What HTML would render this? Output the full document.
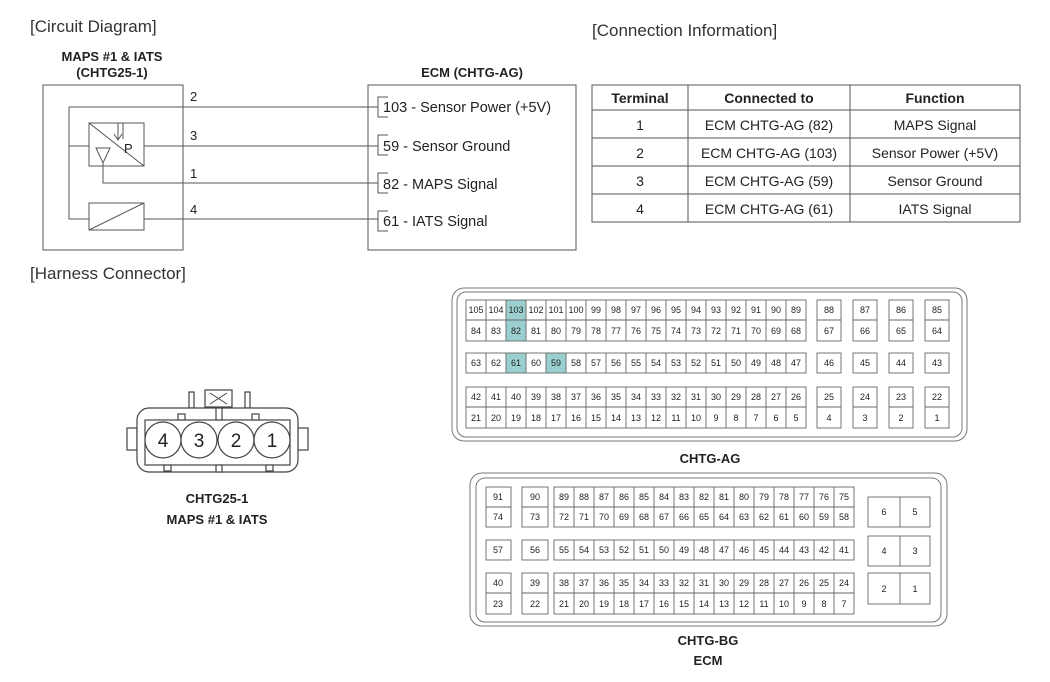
<!DOCTYPE html>
<html><head><meta charset="utf-8"><style>
html,body{margin:0;padding:0;background:#fff}
svg{display:block}
text{font-family:"Liberation Sans",Arial,sans-serif;fill:#222}
.c{font-size:9px;text-anchor:middle}
.t{font-size:14.5px}
.b{font-weight:bold;font-size:13px;text-anchor:middle}
.h{font-size:17px;fill:#333}
</style></head><body>
<svg width="1050" height="682" viewBox="0 0 1050 682" xmlns="http://www.w3.org/2000/svg">
<g fill="none" stroke="#555" stroke-width="1">
<!-- circuit -->
<rect x="43" y="85" width="140" height="165"/>
<rect x="368" y="85" width="208" height="165"/>
<path d="M69 107H378M69 107V219H89M69 146H89M144 146H378M103 163V183H378M144 219H378"/>
<rect x="89" y="123" width="55" height="43"/>
<path d="M89 123L144 166"/>
<path d="M96 148H110L103 163Z"/>
<path d="M118 123V139M123 123V139M114 134L118 140L122 134" />
<rect x="89" y="203" width="55" height="27"/>
<path d="M89 230L144 203"/>
<path d="M388 97H378V117H388M388 135H378V155H388M388 173H378V193H388M388 211H378V231H388"/>
<!-- table -->
<rect x="592" y="85" width="428" height="137"/>
<path d="M688 85V222M850 85V222M592 110H1020M592 138H1020M592 166H1020M592 194H1020"/>
</g>
<text x="30" y="32" class="h">[Circuit Diagram]</text>
<text x="592" y="36" class="h">[Connection Information]</text>
<text x="30" y="279" class="h">[Harness Connector]</text>
<text x="112" y="61" class="b">MAPS #1 &amp; IATS</text>
<text x="112" y="77" class="b">(CHTG25-1)</text>
<text x="472" y="77" class="b">ECM (CHTG-AG)</text>
<g class="t" style="font-size:13px">
<text x="190" y="101">2</text><text x="190" y="140">3</text><text x="190" y="178">1</text><text x="190" y="214">4</text>
</g>
<text x="124" y="153" style="font-size:13px">P</text>
<g style="font-size:14.5px">
<text x="383" y="112">103 - Sensor Power (+5V)</text>
<text x="383" y="151">59 - Sensor Ground</text>
<text x="383" y="189">82 - MAPS Signal</text>
<text x="383" y="226">61 - IATS Signal</text>
</g>
<g style="font-size:14px;text-anchor:middle">
<text x="640" y="103" style="font-weight:bold">Terminal</text>
<text x="769" y="103" style="font-weight:bold">Connected to</text>
<text x="935" y="103" style="font-weight:bold">Function</text>
<text x="640" y="130">1</text><text x="769" y="130">ECM CHTG-AG (82)</text><text x="935" y="130">MAPS Signal</text>
<text x="640" y="158">2</text><text x="769" y="158">ECM CHTG-AG (103)</text><text x="935" y="158">Sensor Power (+5V)</text>
<text x="640" y="186">3</text><text x="769" y="186">ECM CHTG-AG (59)</text><text x="935" y="186">Sensor Ground</text>
<text x="640" y="214">4</text><text x="769" y="214">ECM CHTG-AG (61)</text><text x="935" y="214">IATS Signal</text>
</g>

<!-- harness connector -->
<g fill="#fff" stroke="#444" stroke-width="1.2">
<rect x="127" y="428" width="10" height="22"/>
<rect x="298" y="428" width="10" height="22"/>
<rect x="189" y="392" width="5" height="16"/>
<rect x="245" y="392" width="5" height="16"/>
<rect x="205" y="390" width="27" height="17"/>
<rect x="137" y="408" width="161" height="64" rx="12"/>
<rect x="145" y="420" width="145" height="45"/>
<rect x="178" y="414" width="7" height="6"/><rect x="252" y="414" width="7" height="6"/>
<rect x="164" y="465" width="7" height="6"/><rect x="266" y="465" width="7" height="6"/>
<rect x="216" y="408" width="6" height="12"/><rect x="216" y="465" width="6" height="7"/>
<circle cx="163" cy="440" r="18"/><circle cx="199" cy="440" r="18"/>
<circle cx="236" cy="440" r="18"/><circle cx="272" cy="440" r="18"/>
</g>
<path d="M210 393L227 404M227 393L210 404" stroke="#444" fill="none"/>
<g style="font-size:19px;text-anchor:middle">
<text x="163" y="447">4</text><text x="199" y="447">3</text><text x="236" y="447">2</text><text x="272" y="447">1</text>
</g>
<text x="217" y="503" class="b">CHTG25-1</text>
<text x="217" y="524" class="b">MAPS #1 &amp; IATS</text>

<!-- CHTG-AG -->
<g fill="none" stroke="#777">
<rect x="452" y="288" width="515" height="153" rx="12"/>
<rect x="457" y="292" width="505" height="145" rx="9"/>
</g>
<g fill="#9ccfcf"><rect x="506" y="300" width="20" height="41"/><rect x="506" y="353" width="20" height="20"/><rect x="546" y="353" width="20" height="20"/></g>
<g fill="none" stroke="#666" stroke-width="0.9">
<rect x="466" y="300" width="340" height="41"/><rect x="466" y="353" width="340" height="20"/><rect x="466" y="387" width="340" height="41"/>
<path d="M466 320H806M466 407H806M486 300V341M506 300V341M526 300V341M546 300V341M566 300V341M586 300V341M606 300V341M626 300V341M646 300V341M666 300V341M686 300V341M706 300V341M726 300V341M746 300V341M766 300V341M786 300V341
M486 353V373M506 353V373M526 353V373M546 353V373M566 353V373M586 353V373M606 353V373M626 353V373M646 353V373M666 353V373M686 353V373M706 353V373M726 353V373M746 353V373M766 353V373M786 353V373
M486 387V428M506 387V428M526 387V428M546 387V428M566 387V428M586 387V428M606 387V428M626 387V428M646 387V428M666 387V428M686 387V428M706 387V428M726 387V428M746 387V428M766 387V428M786 387V428"/>
<rect x="817" y="300" width="24" height="41"/><rect x="853" y="300" width="24" height="41"/><rect x="889" y="300" width="24" height="41"/><rect x="925" y="300" width="24" height="41"/>
<rect x="817" y="353" width="24" height="20"/><rect x="853" y="353" width="24" height="20"/><rect x="889" y="353" width="24" height="20"/><rect x="925" y="353" width="24" height="20"/>
<rect x="817" y="387" width="24" height="41"/><rect x="853" y="387" width="24" height="41"/><rect x="889" y="387" width="24" height="41"/><rect x="925" y="387" width="24" height="41"/>
<path d="M817 320H841M853 320H877M889 320H913M925 320H949M817 407H841M853 407H877M889 407H913M925 407H949"/>
</g>
<g class="c">
<text x="476" y="313">105</text><text x="496" y="313">104</text><text x="516" y="313">103</text><text x="536" y="313">102</text><text x="556" y="313">101</text><text x="576" y="313">100</text><text x="596" y="313">99</text><text x="616" y="313">98</text><text x="636" y="313">97</text><text x="656" y="313">96</text><text x="676" y="313">95</text><text x="696" y="313">94</text><text x="716" y="313">93</text><text x="736" y="313">92</text><text x="756" y="313">91</text><text x="776" y="313">90</text><text x="796" y="313">89</text>
<text x="829" y="313">88</text><text x="865" y="313">87</text><text x="901" y="313">86</text><text x="937" y="313">85</text>
<text x="476" y="334">84</text><text x="496" y="334">83</text><text x="516" y="334">82</text><text x="536" y="334">81</text><text x="556" y="334">80</text><text x="576" y="334">79</text><text x="596" y="334">78</text><text x="616" y="334">77</text><text x="636" y="334">76</text><text x="656" y="334">75</text><text x="676" y="334">74</text><text x="696" y="334">73</text><text x="716" y="334">72</text><text x="736" y="334">71</text><text x="756" y="334">70</text><text x="776" y="334">69</text><text x="796" y="334">68</text>
<text x="829" y="334">67</text><text x="865" y="334">66</text><text x="901" y="334">65</text><text x="937" y="334">64</text>
<text x="476" y="366">63</text><text x="496" y="366">62</text><text x="516" y="366">61</text><text x="536" y="366">60</text><text x="556" y="366">59</text><text x="576" y="366">58</text><text x="596" y="366">57</text><text x="616" y="366">56</text><text x="636" y="366">55</text><text x="656" y="366">54</text><text x="676" y="366">53</text><text x="696" y="366">52</text><text x="716" y="366">51</text><text x="736" y="366">50</text><text x="756" y="366">49</text><text x="776" y="366">48</text><text x="796" y="366">47</text>
<text x="829" y="366">46</text><text x="865" y="366">45</text><text x="901" y="366">44</text><text x="937" y="366">43</text>
<text x="476" y="400">42</text><text x="496" y="400">41</text><text x="516" y="400">40</text><text x="536" y="400">39</text><text x="556" y="400">38</text><text x="576" y="400">37</text><text x="596" y="400">36</text><text x="616" y="400">35</text><text x="636" y="400">34</text><text x="656" y="400">33</text><text x="676" y="400">32</text><text x="696" y="400">31</text><text x="716" y="400">30</text><text x="736" y="400">29</text><text x="756" y="400">28</text><text x="776" y="400">27</text><text x="796" y="400">26</text>
<text x="829" y="400">25</text><text x="865" y="400">24</text><text x="901" y="400">23</text><text x="937" y="400">22</text>
<text x="476" y="421">21</text><text x="496" y="421">20</text><text x="516" y="421">19</text><text x="536" y="421">18</text><text x="556" y="421">17</text><text x="576" y="421">16</text><text x="596" y="421">15</text><text x="616" y="421">14</text><text x="636" y="421">13</text><text x="656" y="421">12</text><text x="676" y="421">11</text><text x="696" y="421">10</text><text x="716" y="421">9</text><text x="736" y="421">8</text><text x="756" y="421">7</text><text x="776" y="421">6</text><text x="796" y="421">5</text>
<text x="829" y="421">4</text><text x="865" y="421">3</text><text x="901" y="421">2</text><text x="937" y="421">1</text>
</g>
<text x="710" y="463" class="b">CHTG-AG</text>

<!-- CHTG-BG -->
<g fill="none" stroke="#777">
<rect x="470" y="473" width="477" height="153" rx="12"/>
<rect x="476" y="478" width="465" height="144" rx="9"/>
</g>
<g fill="none" stroke="#666" stroke-width="0.9">
<rect x="486" y="487" width="25" height="40"/><rect x="522" y="487" width="26" height="40"/><rect x="554" y="487" width="300" height="40"/>
<rect x="486" y="540" width="25" height="20"/><rect x="522" y="540" width="26" height="20"/><rect x="554" y="540" width="300" height="20"/>
<rect x="486" y="573" width="25" height="41"/><rect x="522" y="573" width="26" height="41"/><rect x="554" y="573" width="300" height="41"/>
<path d="M486 507H511M522 507H548M554 507H854M486 593H511M522 593H548M554 593H854
M574 487V527M594 487V527M614 487V527M634 487V527M654 487V527M674 487V527M694 487V527M714 487V527M734 487V527M754 487V527M774 487V527M794 487V527M814 487V527M834 487V527
M574 540V560M594 540V560M614 540V560M634 540V560M654 540V560M674 540V560M694 540V560M714 540V560M734 540V560M754 540V560M774 540V560M794 540V560M814 540V560M834 540V560
M574 573V614M594 573V614M614 573V614M634 573V614M654 573V614M674 573V614M694 573V614M714 573V614M734 573V614M754 573V614M774 573V614M794 573V614M814 573V614M834 573V614"/>
<rect x="868" y="497" width="62" height="30"/><rect x="868" y="536" width="62" height="30"/><rect x="868" y="573" width="62" height="31"/>
<path d="M900 497V527M900 536V566M900 573V604"/>
</g>
<g class="c">
<text x="498" y="500">91</text><text x="535" y="500">90</text>
<text x="564" y="500">89</text><text x="584" y="500">88</text><text x="604" y="500">87</text><text x="624" y="500">86</text><text x="644" y="500">85</text><text x="664" y="500">84</text><text x="684" y="500">83</text><text x="704" y="500">82</text><text x="724" y="500">81</text><text x="744" y="500">80</text><text x="764" y="500">79</text><text x="784" y="500">78</text><text x="804" y="500">77</text><text x="824" y="500">76</text><text x="844" y="500">75</text>
<text x="498" y="520">74</text><text x="535" y="520">73</text>
<text x="564" y="520">72</text><text x="584" y="520">71</text><text x="604" y="520">70</text><text x="624" y="520">69</text><text x="644" y="520">68</text><text x="664" y="520">67</text><text x="684" y="520">66</text><text x="704" y="520">65</text><text x="724" y="520">64</text><text x="744" y="520">63</text><text x="764" y="520">62</text><text x="784" y="520">61</text><text x="804" y="520">60</text><text x="824" y="520">59</text><text x="844" y="520">58</text>
<text x="498" y="553">57</text><text x="535" y="553">56</text>
<text x="564" y="553">55</text><text x="584" y="553">54</text><text x="604" y="553">53</text><text x="624" y="553">52</text><text x="644" y="553">51</text><text x="664" y="553">50</text><text x="684" y="553">49</text><text x="704" y="553">48</text><text x="724" y="553">47</text><text x="744" y="553">46</text><text x="764" y="553">45</text><text x="784" y="553">44</text><text x="804" y="553">43</text><text x="824" y="553">42</text><text x="844" y="553">41</text>
<text x="498" y="586">40</text><text x="535" y="586">39</text>
<text x="564" y="586">38</text><text x="584" y="586">37</text><text x="604" y="586">36</text><text x="624" y="586">35</text><text x="644" y="586">34</text><text x="664" y="586">33</text><text x="684" y="586">32</text><text x="704" y="586">31</text><text x="724" y="586">30</text><text x="744" y="586">29</text><text x="764" y="586">28</text><text x="784" y="586">27</text><text x="804" y="586">26</text><text x="824" y="586">25</text><text x="844" y="586">24</text>
<text x="498" y="607">23</text><text x="535" y="607">22</text>
<text x="564" y="607">21</text><text x="584" y="607">20</text><text x="604" y="607">19</text><text x="624" y="607">18</text><text x="644" y="607">17</text><text x="664" y="607">16</text><text x="684" y="607">15</text><text x="704" y="607">14</text><text x="724" y="607">13</text><text x="744" y="607">12</text><text x="764" y="607">11</text><text x="784" y="607">10</text><text x="804" y="607">9</text><text x="824" y="607">8</text><text x="844" y="607">7</text>
<text x="884" y="515">6</text><text x="915" y="515">5</text>
<text x="884" y="554">4</text><text x="915" y="554">3</text>
<text x="884" y="592">2</text><text x="915" y="592">1</text>
</g>
<text x="708" y="645" class="b">CHTG-BG</text>
<text x="708" y="665" class="b">ECM</text>
</svg>
</body></html>
